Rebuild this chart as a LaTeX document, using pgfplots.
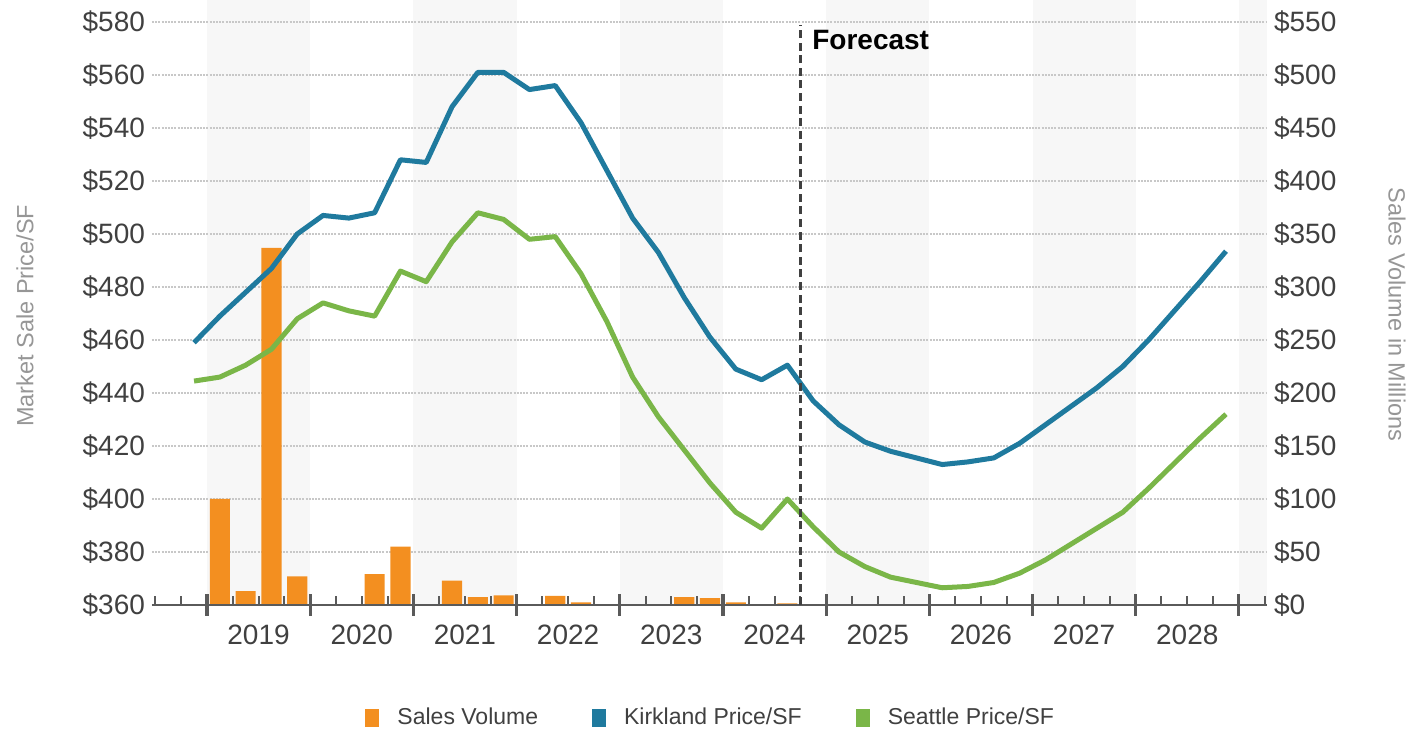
\documentclass[border=0pt]{standalone}
\usepackage{fontspec}
\setmainfont{Liberation Sans}
\usepackage{pgfplots}
\pgfplotsset{compat=1.18}

\definecolor{sorange}{RGB}{243,143,32}
\definecolor{kblue}{RGB}{31,122,158}
\definecolor{sgreen}{RGB}{122,182,72}
\definecolor{band}{RGB}{247,247,247}
\definecolor{ticktext}{RGB}{64,64,64}
\definecolor{titletext}{RGB}{150,150,150}
\definecolor{axisgray}{RGB}{90,90,90}
\definecolor{gridgray}{RGB}{200,200,200}

\pgfplotsset{
  base/.style={width=557.5pt, height=291.5pt, scale only axis,
    xmin=-2.13, xmax=41.09, clip=false,
    /pgf/number format/assume math mode=true},
  ticklab/.style={font=\fontsize{14}{16}\selectfont, text=ticktext},
}

% quarter index: 2019 Q1 is centred at 0.5
\pgfplotstableread{
x     kirk   sea
-0.5  459    444.5
0.5   469    446
1.5   478    450.5
2.5   487    456.5
3.5   500    468
4.5   507    474
5.5   506    471
6.5   508    469
7.5   528    486
8.5   527    482
9.5   548    497
10.5  561    508
11.5  561    505.5
12.5  554.5  498
13.5  556    499
14.5  542    485
15.5  524    467
16.5  506    446
17.5  493    431
18.5  476    418.5
19.5  461    406
20.5  449    395
21.5  445    389
22.5  450.5  400
23.5  437    389.5
24.5  428    380
25.5  421.5  374.5
26.5  418    370.5
27.5  415.5  368.5
28.5  413    366.5
29.5  414    367
30.5  415.5  368.5
31.5  421    372
32.5  428    377
33.5  435    383
34.5  442    389
35.5  450    395
36.5  460    404
37.5  471    413.5
38.5  482    423
39.5  493.5  432
}\prices

\begin{document}
\begin{tikzpicture}
% alternating year bands
\begin{axis}[base, ymin=360, ymax=580, hide axis]
  \fill[band] (axis cs:0,360) rectangle (axis cs:4,588.3);
  \fill[band] (axis cs:8,360) rectangle (axis cs:12,588.3);
  \fill[band] (axis cs:16,360) rectangle (axis cs:20,588.3);
  \fill[band] (axis cs:24,360) rectangle (axis cs:28,588.3);
  \fill[band] (axis cs:32,360) rectangle (axis cs:36,588.3);
  \fill[band] (axis cs:40,360) rectangle (axis cs:41.09,588.3);
\end{axis}

% sales volume, right axis
\begin{axis}[base, ymin=0, ymax=550,
    axis x line=none, axis y line*=right,
    y axis line style={draw=none}, major tick length=0pt,
    ytick={0,50,...,550},
    yticklabels={\$0,\$50,\$100,\$150,\$200,\$250,\$300,\$350,\$400,\$450,\$500,\$550},
    yticklabel style={ticklab},
    ymajorgrids,
    grid style={gridgray, line width=0.8pt, dash pattern=on 1pt off 0.6pt}]
  \addplot[ybar, bar width=0.78, fill=sorange, draw=none] coordinates {
    (0.5,100) (1.5,13) (2.5,337) (3.5,27)
    (6.5,29) (7.5,55)
    (9.5,23) (10.5,7.5) (11.5,9)
    (13.5,8.5) (14.5,2.5)
    (18.5,7.5) (19.5,6.5)
    (20.5,2.5) (22.5,1.5)
  };
  \node[rotate=-90, font=\fontsize{11.75}{14}\selectfont, text=titletext]
    at (axis description cs:1.1166,0.498) {Sales Volume in Millions};
\end{axis}

% prices, left axis
\begin{axis}[base, ymin=360, ymax=580,
    axis x line*=bottom, axis y line*=left,
    y axis line style={draw=none},
    x axis line style={axisgray, line width=1.4pt, -},
    major tick length=0pt, minor tick length=4.5pt,
    tick style={axisgray, line width=1pt},
    ytick={360,380,...,580},
    yticklabels={\$360,\$380,\$400,\$420,\$440,\$460,\$480,\$500,\$520,\$540,\$560,\$580},
    yticklabel style={ticklab},
    xtick={2,6,...,38},
    xticklabels={2019,2020,2021,2022,2023,2024,2025,2026,2027,2028},
    xticklabel style={ticklab, yshift=-6.3pt},
    minor xtick={-2,-1,...,41},
    extra x ticks={0,4,...,40},
    extra x tick labels={},
    extra x tick style={major tick length=11pt, xtick align=center,
      tick style={axisgray, line width=1.6pt}},
    legend columns=3,
    legend image code/.code={\fill[#1, draw=none] (0pt,-4.3pt) rectangle (7pt,4.3pt);},
    legend style={draw=none, fill=none,
      at={(axis description cs:0.502,-0.194)}, anchor=center,
      font=\fontsize{11.5}{13}\selectfont, text=ticktext,
      /tikz/every odd column/.append style={column sep=7pt},
      /tikz/every even column/.append style={column sep=25pt}}]
  \addlegendimage{sorange}
  \addlegendentry{Sales Volume}
  \addplot[kblue, line width=2.5pt, line join=round] table[x=x, y=kirk] {\prices};
  \addlegendentry{Kirkland Price/SF}
  \addplot[sgreen, line width=2.5pt, line join=round] table[x=x, y=sea] {\prices};
  \addlegendentry{Seattle Price/SF}
  \draw[black!75, line width=1.4pt, dash pattern=on 4pt off 2.3pt]
    (axis cs:23,360) -- (axis cs:23,579);
  \node[anchor=west, inner sep=0pt, font=\bfseries\fontsize{14}{16}\selectfont]
    at (axis cs:23.45,573.2) {Forecast};
  \node[rotate=90, font=\fontsize{11.75}{14}\selectfont, text=titletext]
    at (axis description cs:-0.114,0.496) {Market Sale Price/SF};
\end{axis}

\pgfresetboundingbox
\path (-76pt,-63pt) rectangle (629pt,302.5pt);
\end{tikzpicture}
\end{document}
